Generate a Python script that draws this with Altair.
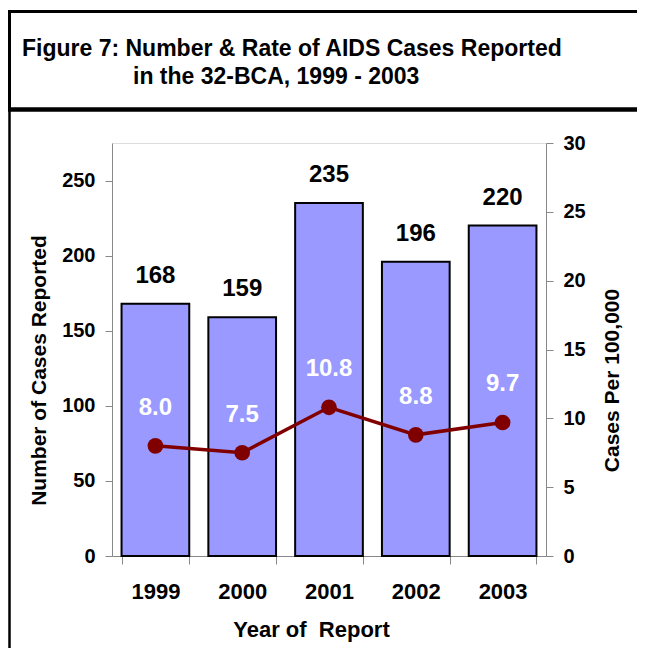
import altair as alt
import pandas as pd

years = ["1999", "2000", "2001", "2002", "2003"]
cases = [168, 159, 235, 196, 220]
rates = [8.0, 7.5, 10.8, 8.8, 9.7]
rate_labels = ["8.0", "7.5", "10.8", "8.8", "9.7"]
title_lines = ["Figure 7: Number & Rate of AIDS Cases Reported",
               "in the 32-BCA, 1999 - 2003"]
left_ticks = [0, 50, 100, 150, 200, 250]
right_ticks = [0, 5, 10, 15, 20, 25, 30]

df = pd.DataFrame({"year": years, "cases": cases, "rate": rates,
                   "rate_label": rate_labels})

FONT = "Liberation Sans"
base = alt.Chart(df)

xenc = alt.X(
    "year:N",
    scale=alt.Scale(paddingInner=0.22, paddingOuter=0.11),
    axis=alt.Axis(
        title="Year of\u00a0 Report", labelAngle=0, labelFontSize=22,
        labelFontWeight="bold", labelFont=FONT,
        tickBand="extent", tickSize=8, labelPadding=17,
        titleFontSize=22, titleX=199, titleY=80, titleBaseline="alphabetic",
    ),
)

bars = base.mark_bar(color="#9999FF", stroke="black", strokeWidth=2).encode(
    x=xenc,
    y=alt.Y(
        "cases:Q",
        scale=alt.Scale(domain=[0, 275], nice=False),
        axis=alt.Axis(
            title="Number of Cases Reported", values=left_ticks, grid=False,
            tickSize=7, labelPadding=10, labelFontSize=20,
            labelFontWeight="bold", labelFont=FONT,
            titleFontSize=21, titleAngle=270, titleX=-73, titleY=227,
            titleBaseline="middle", titleAlign="center",
        ),
    ),
)
count_text = base.mark_text(dy=-28, fontSize=24, fontWeight="bold",
                            color="black", font=FONT).encode(
    x=alt.X("year:N"), y=alt.Y("cases:Q"), text="cases:Q")

line = base.mark_line(color="#800000", strokeWidth=3.5).encode(
    x=alt.X("year:N"),
    y=alt.Y(
        "rate:Q",
        scale=alt.Scale(domain=[0, 30], nice=False),
        axis=alt.Axis(
            orient="right", title="Cases Per 100,000", values=right_ticks,
            grid=False, tickSize=7, labelPadding=10, labelFontSize=20,
            labelFontWeight="bold", labelFont=FONT,
            titleFontSize=21, titleAngle=270, titleX=66, titleY=237,
            titleBaseline="middle", titleAlign="center",
        ),
    ),
)
points = base.mark_circle(color="#800000", size=245, opacity=1).encode(
    x=alt.X("year:N"), y=alt.Y("rate:Q"))
rate_text = base.mark_text(dy=-38, fontSize=24, fontWeight="bold",
                           color="white", font=FONT).encode(
    x=alt.X("year:N"), y=alt.Y("rate:Q"), text="rate_label:N")

left = alt.layer(bars, count_text)
right = alt.layer(line, points, rate_text)

dummy = alt.Chart(pd.DataFrame({"d": [0]}))
top_line = dummy.mark_rule(color="black", strokeWidth=3).encode(
    x=alt.value(-104), x2=alt.value(530), y=alt.value(-131.5))
divider = dummy.mark_rule(color="black", strokeWidth=4.5).encode(
    x=alt.value(-104), x2=alt.value(530), y=alt.value(-33.5))
left_border_top = dummy.mark_rule(color="black", strokeWidth=3).encode(
    x=alt.value(-102.5), y=alt.value(-133), y2=alt.value(-33.5))
left_border_bottom = dummy.mark_rule(color="black", strokeWidth=2.5).encode(
    x=alt.value(-102.5), y=alt.value(-33.5), y2=alt.value(510))
title1 = dummy.mark_text(align="left", baseline="alphabetic", fontSize=23,
                         fontWeight="bold", font=FONT, color="black").encode(
    x=alt.value(-90), y=alt.value(-87), text=alt.value(title_lines[0]))
title2 = dummy.mark_text(align="left", baseline="alphabetic", fontSize=23,
                         fontWeight="bold", font=FONT, color="black").encode(
    x=alt.value(21), y=alt.value(-59), text=alt.value(title_lines[1]))

chart = alt.layer(left, right, top_line, divider, left_border_top,
                  left_border_bottom, title1, title2).resolve_scale(
    y="independent"
).properties(
    width=434, height=413,
    autosize=alt.AutoSizeParams(type="none"),
    padding={"left": 104, "top": 135, "right": 91, "bottom": 92},
).configure_view(stroke=None).configure_axis(
    labelFont=FONT, titleFont=FONT, labelFontWeight="bold",
    titleFontWeight="bold", labelColor="black", titleColor="black",
    domainColor="black", tickColor="black", domainWidth=1.2, tickWidth=1.2,
).configure(background="white")

chart.save("out.html", embed_options={"renderer": "svg", "actions": False})
